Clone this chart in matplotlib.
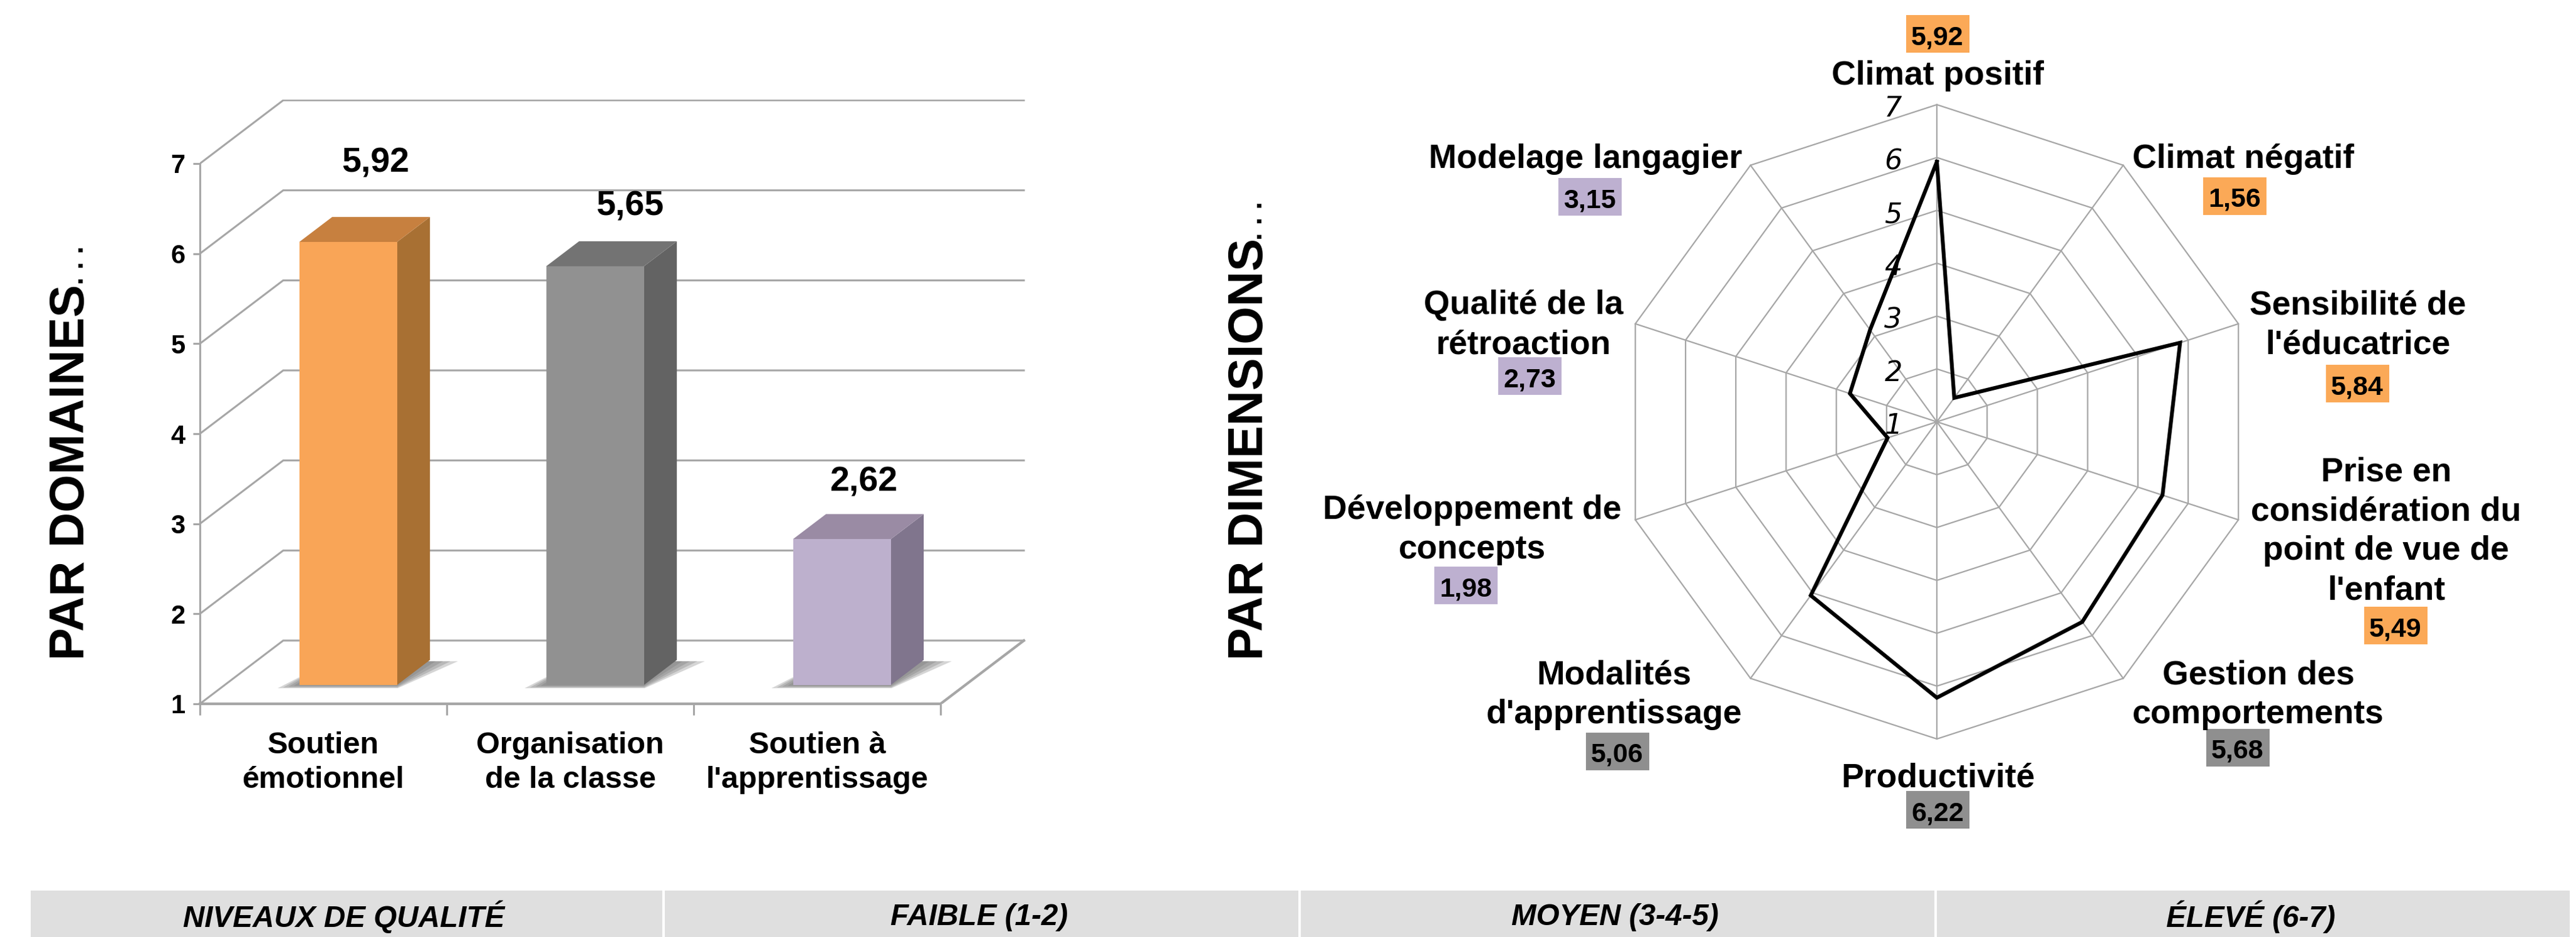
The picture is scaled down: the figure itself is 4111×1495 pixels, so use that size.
import numpy as np
import matplotlib
matplotlib.use('Agg')
import matplotlib.pyplot as plt
from matplotlib.patches import Polygon, Rectangle

plt.rcParams['font.family'] = ['Liberation Sans', 'DejaVu Sans']

W, H = 4111, 1495

# bars
domains = ['Soutien\némotionnel', 'Organisation\nde la classe', "Soutien à\nl'apprentissage"]
domain_values = [5.92, 5.65, 2.62]
domain_labels = ['5,92', '5,65', '2,62']
front_cols = ['#F9A557', '#919191', '#BDB0CD']
side_cols = ['#A87033', '#636363', '#80758D']
top_cols = ['#C7803F', '#737373', '#9A8BA4']

# radar
dimensions = ['Climat positif', 'Climat négatif', "Sensibilité de\nl'éducatrice",
              "Prise en\nconsidération du\npoint de vue de\nl'enfant",
              'Gestion des\ncomportements', 'Productivité', "Modalités\nd'apprentissage",
              'Développement de\nconcepts', 'Qualité de la\nrétroaction', 'Modelage langagier']
dimension_values = [5.92, 1.56, 5.84, 5.49, 5.68, 6.22, 5.06, 1.98, 2.73, 3.15]
dimension_labels = ['5,92', '1,56', '5,84', '5,49', '5,68', '6,22', '5,06', '1,98', '2,73', '3,15']
box_cols = ['#FBA957', '#FBA957', '#FBA957', '#FBA957', '#8F8F8F', '#8F8F8F', '#8F8F8F',
            '#BDB0D0', '#BDB0D0', '#BDB0D0']

levels = ['NIVEAUX DE QUALITÉ', 'FAIBLE (1-2)', 'MOYEN (3-4-5)', 'ÉLEVÉ (6-7)']

GRID = '#A6A6A6'


def fx(x):
    return x / W


def fy(y):
    return 1 - y / H


fig = plt.figure(figsize=(W / 100, H / 100), dpi=100)

# ---- 3d looking bars, axes lined up on the front floor edge
group_w = (1501 - 319) / 3
unit = (1123 - 261) / 6
ax = fig.add_axes([fx(319), fy(1123), (1640 - 319) / W, (1123 - 159) / H])
ax.set_xlim(0, (1640 - 319) / group_w)
ax.set_ylim(1, 1 + (1123 - 159) / unit)
ax.patch.set_alpha(0)
depth_x = 133 / group_w
depth_y = 101 / unit


def proj(x, v, d):
    return x + d * depth_x, v + d * depth_y


for v in range(1, 8):
    xs, ys = zip(proj(0, v, 0), proj(0, v, 1), proj(3, v, 1))
    ax.plot(xs, ys, color=GRID, lw=2.2, zorder=1, solid_joinstyle='miter')
xs, ys = zip(proj(0, 1, 0), proj(3, 1, 0), proj(3, 1, 1))
ax.plot(xs, ys, color=GRID, lw=3, zorder=1)

d0, d1 = 0.297, 0.693
bw = 156 / group_w
for i, val in enumerate(domain_values):
    x0 = i + 0.5 - bw / 2
    x1 = i + 0.5 + bw / 2
    # soft floor shadow, a few stacked polygons
    for grow in [1.0, 0.75, 0.5, 0.25]:
        shadow = [proj(x0 - 0.07 * grow, 1, d0 - 0.05 * grow), proj(x1 + 0.02 * grow, 1, d0 - 0.05 * grow),
                  proj(x1 + 0.12 * grow, 1, d1 - 0.02), proj(x0, 1, d1 - 0.02)]
        ax.add_patch(Polygon(shadow, fc='#777777', ec='none', alpha=0.3, zorder=2))
    ax.add_patch(Polygon([proj(x1, 1, d0), proj(x1, 1, d1), proj(x1, val, d1), proj(x1, val, d0)],
                         fc=side_cols[i], ec='none', zorder=3))
    ax.add_patch(Polygon([proj(x0, val, d0), proj(x1, val, d0), proj(x1, val, d1), proj(x0, val, d1)],
                         fc=top_cols[i], ec='none', zorder=3))
    ax.add_patch(Polygon([proj(x0, 1, d0), proj(x1, 1, d0), proj(x1, val, d0), proj(x0, val, d0)],
                         fc=front_cols[i], ec='none', zorder=4))

label_shift = [44, 56, 35]
label_lift = [126, 95, 91]
for i, val in enumerate(domain_values):
    px, py = proj(i + 0.5, val, d0)
    ax.annotate(domain_labels[i], (px, py), xytext=(label_shift[i] * 0.72, label_lift[i] * 0.72),
                textcoords='offset points', ha='center', va='center',
                fontsize=40, fontweight='bold', zorder=5)

for s in ['top', 'right']:
    ax.spines[s].set_visible(False)
ax.spines['left'].set_bounds(1, 7)
ax.spines['bottom'].set_bounds(0, 3)
ax.spines['left'].set_color(GRID)
ax.spines['bottom'].set_color(GRID)
ax.spines['left'].set_linewidth(2.2)
ax.spines['bottom'].set_linewidth(3)
ax.set_yticks(range(1, 8))
ax.set_xticks(range(4))
ax.set_xticklabels([])
ax.set_xticks([0.5, 1.5, 2.5], minor=True)
ax.set_xticklabels(domains, minor=True, fontsize=35, fontweight='bold', linespacing=1.27)
ax.tick_params(axis='x', which='major', length=13, width=2.2, color=GRID)
ax.tick_params(axis='x', which='minor', length=0, pad=32)
ax.tick_params(axis='y', length=8, width=2.2, color=GRID, labelsize=30, pad=9)
for t in ax.get_yticklabels():
    t.set_fontweight('bold')

# rotated titles, anchored on the baseline
for base_x, dots_y, name in [(134, 454, 'PAR DOMAINES'), (2015, 383, 'PAR DIMENSIONS')]:
    fig.text(fx(base_x), fy(1053), name, rotation=90, rotation_mode='anchor', ha='left', va='baseline',
             fontsize=56, fontweight='bold')
    fig.text(fx(base_x - 1), fy(dots_y), '. . .', rotation=90, rotation_mode='anchor', ha='left',
             va='baseline', fontsize=32, fontweight='bold')

# ---- radar
cx, cy, rad = 3091, 673, 506
rax = fig.add_axes([fx(cx - rad), fy(cy + rad), 2 * rad / W, 2 * rad / H], projection='polar')
rax.set_theta_zero_location('N')
rax.set_theta_direction(-1)
rax.set_ylim(1, 7)
rax.axis('off')
angles = np.deg2rad(np.arange(len(dimensions)) * 36)
closed = np.append(angles, angles[0])
for v in range(2, 8):
    rax.plot(closed, [v] * len(closed), color=GRID, lw=1.6, zorder=1, clip_on=False)
for a in angles:
    rax.plot([a, a], [1, 7], color=GRID, lw=1.6, zorder=1, clip_on=False)
rax.plot(closed, dimension_values + dimension_values[:1], color='black', lw=4.4, zorder=3,
         solid_joinstyle='miter', clip_on=False)
for v in range(1, 8):
    rax.annotate(str(v), (0, v), xytext=(-50, -5), textcoords='offset points', ha='center',
                 va='center', fontsize=32, style='italic', family='DejaVu Sans', zorder=4,
                 annotation_clip=False)

# name_y is the baseline of the last line
name_x = [3092, 3580, 3763, 3808, 3604, 3093, 2576, 2349, 2431, 2530]
name_y = [135, 268, 564, 956, 1154, 1255, 1154, 891, 564, 268]
box_x = [3092, 3566, 3762, 3823, 3571, 3092, 2581, 2339, 2441, 2537]
box_y = [54, 313, 612, 998, 1193, 1292, 1199, 934, 600, 314]
box_w, box_h = 101, 60
for i in range(len(dimensions)):
    fig.text(fx(name_x[i]), fy(name_y[i]), dimensions[i], ha='center', va='baseline',
             fontsize=38.5, fontweight='bold', linespacing=1.33)
    fig.add_artist(Rectangle((fx(box_x[i] - box_w / 2), fy(box_y[i] + box_h / 2)), box_w / W, box_h / H,
                             transform=fig.transFigure, fc=box_cols[i], ec='none'))
    fig.text(fx(box_x[i]), fy(box_y[i] + 17), dimension_labels[i], ha='center', va='baseline',
             fontsize=31, fontweight='bold')

# ---- band at the bottom
edges = [47, 1059, 2074, 3089, 4103]
for i, name in enumerate(levels):
    fig.add_artist(Rectangle((fx(edges[i] + 2), 0), (edges[i + 1] - edges[i] - 4) / W, (H - 1421) / H,
                             transform=fig.transFigure, fc='#DFDFDF', ec='none'))
    fig.text(fx((edges[i] + edges[i + 1]) / 2 - 4), fy(1463), name, ha='center', va='center',
             fontsize=34.3, fontweight='bold', style='italic')

fig.savefig('out.png', dpi=100)
